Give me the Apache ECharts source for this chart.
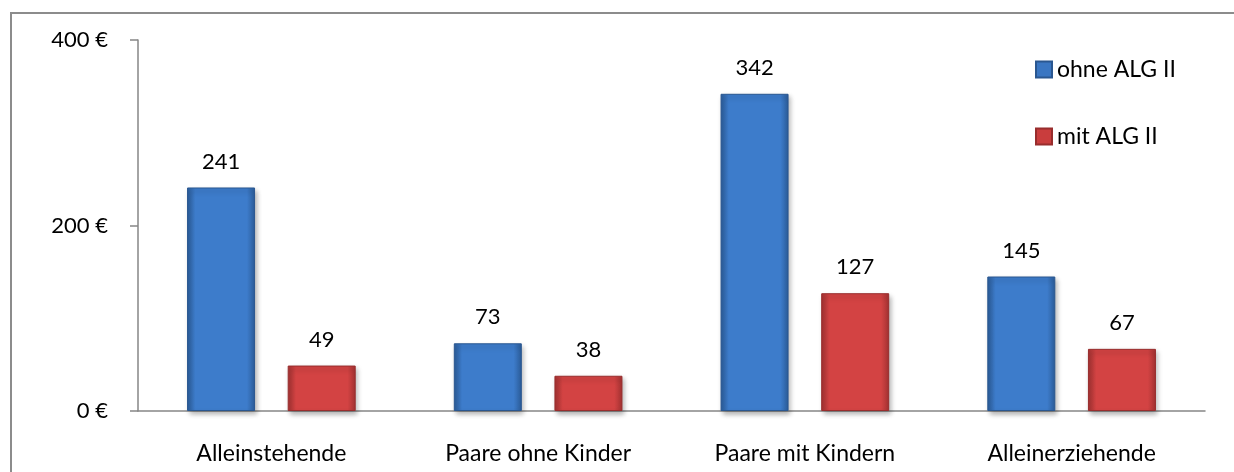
<!DOCTYPE html>
<html>
<head>
<meta charset="utf-8">
<script src="https://cdn.jsdelivr.net/npm/echarts@6/dist/echarts.min.js"></script>
<style>
  html, body { margin: 0; padding: 0; background: #fff; }
  #chart { width: 1234px; height: 472px; }
</style>
</head>
<body>
<div id="chart"></div>
<script>
  'use strict';

  var kategorien = ['Alleinstehende', 'Paare ohne Kinder', 'Paare mit Kindern', 'Alleinerziehende'];
  var ohneALG = [241, 73, 342, 145];
  var mitALG = [49, 38, 127, 67];
  var yTicks = [0, 200, 400];

  function balken(dunkel, hell) {
    return {
      type: 'linear', x: 0, y: 0, x2: 1, y2: 0,
      colorStops: [
        { offset: 0, color: dunkel },
        { offset: 0.12, color: hell },
        { offset: 0.88, color: hell },
        { offset: 1, color: dunkel }
      ]
    };
  }

  var blau = balken('#2b5c99', '#3d7ccb');
  var rot = balken('#a33232', '#d34343');
  var schrift = 'Lato, "Noto Sans", sans-serif';

  var myChart = echarts.init(document.getElementById('chart'));

  var option = {
    animation: false,
    textStyle: { fontFamily: schrift },
    grid: { left: 138, right: 29, top: 40, bottom: 61 },
    legend: {
      orient: 'vertical',
      left: 1030,
      top: 53,
      itemWidth: 16,
      itemHeight: 16,
      itemGap: 44,
      icon: 'rect',
      textStyle: { fontSize: 23, color: '#000', fontFamily: schrift },
      data: [
        { name: 'ohne ALG II', itemStyle: { color: '#3a76c2' } },
        { name: 'mit ALG II', itemStyle: { color: '#c93d3d' } }
      ]
    },
    xAxis: {
      type: 'category',
      data: kategorien,
      axisLine: { lineStyle: { color: '#868686', width: 1.5 } },
      axisTick: { length: 7, lineStyle: { color: '#868686', width: 1.5 } },
      axisLabel: { color: '#000', fontSize: 23, margin: 31, fontFamily: schrift }
    },
    yAxis: {
      type: 'value',
      min: yTicks[0],
      max: yTicks[yTicks.length - 1],
      interval: yTicks[1] - yTicks[0],
      splitLine: { show: false },
      axisLine: { show: true, lineStyle: { color: '#868686', width: 1.5 } },
      axisTick: { show: true, length: 8, lineStyle: { color: '#868686', width: 1.5 } },
      axisLabel: { color: '#000', fontSize: 22, margin: 30, fontFamily: schrift,
        formatter: '{value} €' }
    },
    series: [{
        name: 'ohne ALG II',
        type: 'bar',
        data: ohneALG,
        barWidth: 68,
        barGap: '48%',
        itemStyle: {
          color: blau,
          borderColor: '#2a5790',
          borderWidth: 1,
          shadowColor: 'rgba(0,0,0,0.3)',
          shadowBlur: 5,
          shadowOffsetX: 2,
          shadowOffsetY: 3
        },
        label: { show: true, position: 'top', distance: 15, fontSize: 22, color: '#000' }
      },
      {
        name: 'mit ALG II',
        type: 'bar',
        data: mitALG,
        barWidth: 68,
        itemStyle: {
          color: rot,
          borderColor: '#982d2d',
          borderWidth: 1,
          shadowColor: 'rgba(0,0,0,0.3)',
          shadowBlur: 5,
          shadowOffsetX: 2,
          shadowOffsetY: 3
        },
        label: { show: true, position: 'top', distance: 15, fontSize: 22, color: '#000' }
      }
    ],
    // Rahmen nur links und oben sichtbar
    graphic: [{
      type: 'polyline',
      silent: true,
      shape: { points: [[11, 472], [11, 13], [1234, 13]] },
      style: { fill: 'none', stroke: '#8c8c8c', lineWidth: 2 }
    }]
  };

  myChart.setOption(option);
</script>
</body>
</html>
